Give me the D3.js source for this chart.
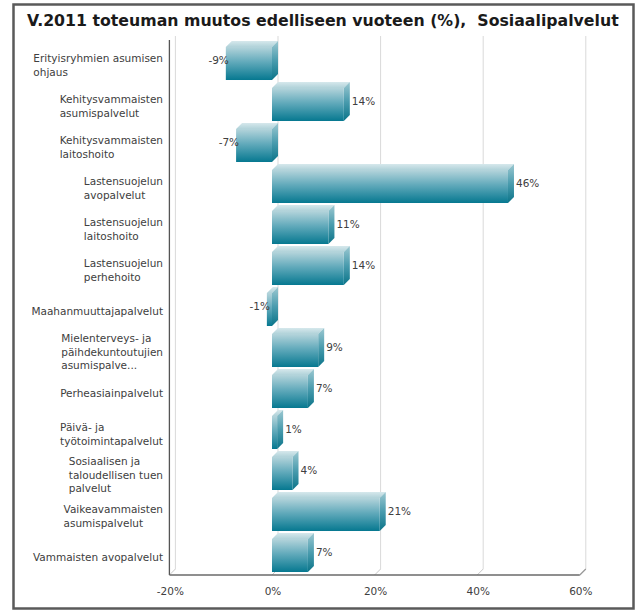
<!DOCTYPE html>
<html><head><meta charset="utf-8">
<script src="https://cdn.jsdelivr.net/npm/d3@7/dist/d3.min.js"></script>
<style>body{margin:0;background:#fff}svg{display:block}</style>
</head><body>
<svg id="c" width="638" height="612"></svg>
<script>
const title = "V.2011 toteuman muutos edelliseen vuoteen (%),  Sosiaalipalvelut";
const categories = [
  ["Erityisryhmien asumisen","ohjaus"],
  ["Kehitysvammaisten","asumispalvelut"],
  ["Kehitysvammaisten","laitoshoito"],
  ["Lastensuojelun","avopalvelut"],
  ["Lastensuojelun","laitoshoito"],
  ["Lastensuojelun","perhehoito"],
  ["Maahanmuuttajapalvelut"],
  ["Mielenterveys- ja","päihdekuntoutujien","asumispalve..."],
  ["Perheasiainpalvelut"],
  ["Päivä- ja","työtoimintapalvelut"],
  ["Sosiaalisen ja","taloudellisen tuen","palvelut"],
  ["Vaikeavammaisten","asumispalvelut"],
  ["Vammaisten avopalvelut"]
];
const values = [-9, 14, -7, 46, 11, 14, -1, 9, 7, 1, 4, 21, 7];
const ticks = [-20, 0, 20, 40, 60];
const tickLabels = ["-20%", "0%", "20%", "40%", "60%"];

const svg = d3.select("#c");
const FONT = "'DejaVu Sans', Verdana, sans-serif";
const TXT = "#404040";
const DX = 6, DY = -6;

svg.append("rect").attr("width",638).attr("height",612).attr("fill","#fff");
svg.append("rect").attr("x",13.5).attr("y",4.5).attr("width",620).attr("height",604)
  .attr("fill","none").attr("stroke","#5a5a5a").attr("stroke-width",2.5);

const t = svg.append("text").attr("x",27).attr("y",26).text(title)
  .style("white-space","pre").attr("xml:space","preserve")
  .attr("font-family",FONT).attr("font-weight","bold").attr("font-size",15).attr("fill","#1a1a1a");
const tw = t.node().getComputedTextLength();
t.attr("font-size", 15*592/tw);

const x = d3.scaleLinear().domain([-20,60]).range([169.4,579.8]);
const idx = d3.range(categories.length);
const y = d3.scaleBand().domain(idx).range([43,576]).paddingInner(0.195).paddingOuter(0.0975);

const floorY = 575, topY = 36;
const g = svg.append("g");
// back gridlines
ticks.forEach(tv => {
  g.append("line").attr("x1",x(tv)+DX).attr("x2",x(tv)+DX).attr("y1",topY).attr("y2",floorY+DY)
    .attr("stroke","#d9d9d9").attr("stroke-width",1);
  g.append("line").attr("x1",x(tv)).attr("x2",x(tv)+DX).attr("y1",floorY).attr("y2",floorY+DY)
    .attr("stroke","#c8c8c8").attr("stroke-width",1);
});
// left wall + floor
g.append("line").attr("x1",x(-20)).attr("x2",x(-20)).attr("y1",topY+4).attr("y2",floorY)
  .attr("stroke","#555").attr("stroke-width",1.3);
g.append("line").attr("x1",x(-20)).attr("x2",x(60)).attr("y1",floorY).attr("y2",floorY)
  .attr("stroke","#6a6a6a").attr("stroke-width",1.3);
g.append("line").attr("x1",x(60)).attr("x2",x(60)+DX).attr("y1",floorY).attr("y2",floorY+DY)
  .attr("stroke","#9a9a9a").attr("stroke-width",1.2);

// gradients
const defs = svg.append("defs");
function grad(id, stops){
  const lg = defs.append("linearGradient").attr("id",id).attr("x1",0).attr("y1",0).attr("x2",0).attr("y2",1);
  stops.forEach(s=>lg.append("stop").attr("offset",s[0]).attr("stop-color",s[1]));
}
grad("gf",[[0,"#b4d4db"],[0.45,"#62aabb"],[1,"#067890"]]);
grad("gt",[[0,"#d6e8ec"],[1,"#b0d2d9"]]);
grad("gs",[[0,"#9cc8d1"],[0.5,"#4a9cae"],[1,"#0b7489"]]);

values.forEach((v,i) => {
  const x0 = x(Math.min(0,v)), x1 = x(Math.max(0,v));
  const yt = y(i), yb = y(i)+y.bandwidth();
  const bg = g.append("g");
  bg.append("polygon").attr("points",[[x0,yt],[x0+DX,yt+DY],[x1+DX,yt+DY],[x1,yt]].join(" "))
    .attr("fill","url(#gt)");
  bg.append("polygon").attr("points",[[x1,yt],[x1+DX,yt+DY],[x1+DX,yb+DY],[x1,yb]].join(" "))
    .attr("fill","url(#gs)");
  bg.append("rect").attr("x",x0).attr("y",yt).attr("width",x1-x0).attr("height",yb-yt)
    .attr("fill","url(#gf)");
  const ly = (yt+yb)/2 - 3;
  g.append("text").attr("x", v>=0 ? x1+DX+2 : x0+3).attr("y",ly).attr("dy","0.35em")
    .attr("text-anchor", v>=0 ? "start" : "end")
    .attr("font-family",FONT).attr("font-size",10.5).attr("fill",TXT).text(v+"%");
  // category label
  const lines = categories[i];
  const lh = 13.8;
  const cy = (yt+yb)/2 + 1.5;
  const tg = svg.append("text").attr("font-family",FONT).attr("font-size",10.5).attr("fill",TXT);
  lines.forEach((ln,k)=>{
    tg.append("tspan").attr("x",0).attr("y", cy + (k-(lines.length-1)/2)*lh).attr("dy","0.35em").text(ln);
  });
  const w = d3.max(tg.selectAll("tspan").nodes(), n=>n.getComputedTextLength());
  tg.attr("transform",`translate(${163-w},0)`);
});

ticks.forEach((tv,k)=>{
  svg.append("text").attr("x",x(tv)+1).attr("y",595).attr("text-anchor","middle")
    .attr("font-family",FONT).attr("font-size",10.5).attr("fill",TXT).text(tickLabels[k]);
});
</script>
</body></html>
